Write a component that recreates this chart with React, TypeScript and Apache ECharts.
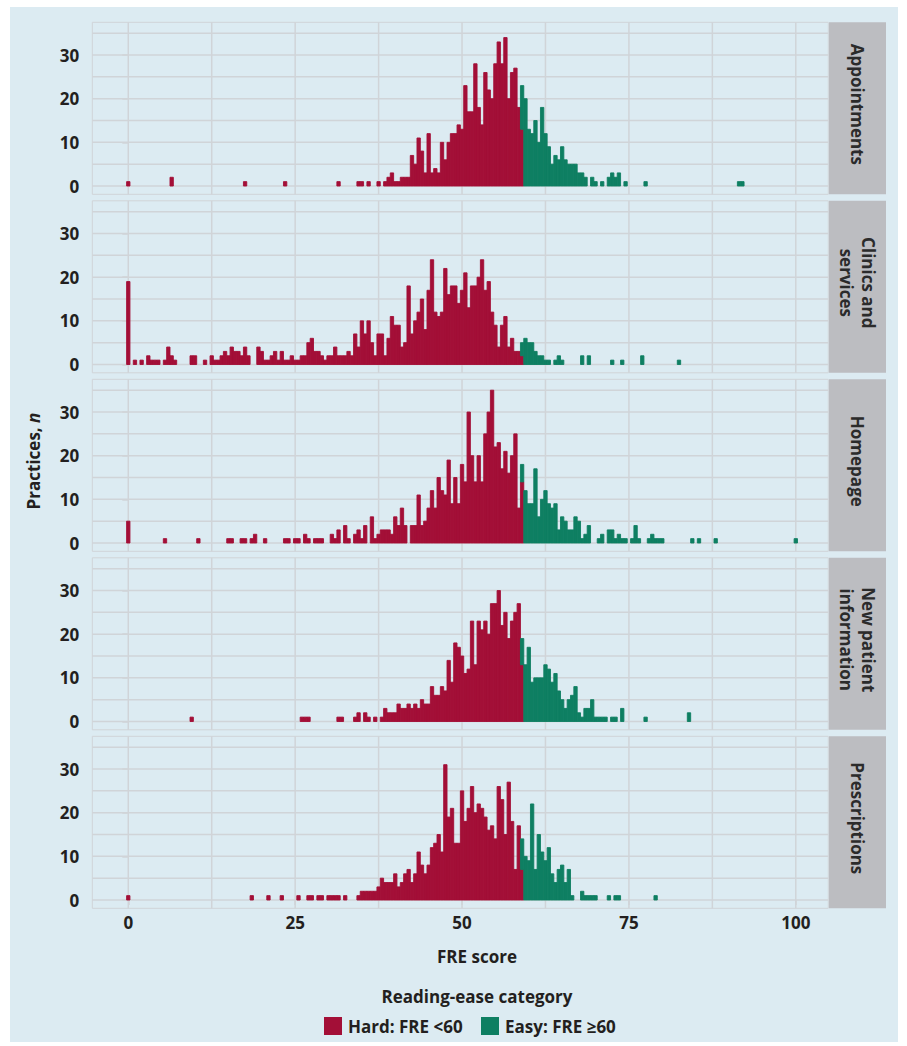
import React, { useEffect, useRef } from 'react';
import * as echarts from 'echarts';

// ---------- data: [bin centre (FRE score), number of practices] ----------
const BIN_WIDTH = 0.5;

const appointmentsHard = [[0,1],[6.5,2],[17.5,1],[23.5,1],[31.5,1],[34.5,1],[35,1],[36,1],[37.5,1],[38.5,1],[39,2],[39.5,3],[40,1],[40.5,1],[41,2],[41.5,2],[42,2],[42.5,7],[43,5],[43.5,11],[44,8],[44.5,3],[45,12],[45.5,3],[46,4],[46.5,3],[47,10],[47.5,6],[48,10],[48.5,12],[49,12],[49.5,14],[50,13],[50.5,23],[51,17],[51.5,17],[52,28],[52.5,18],[53,14],[53.5,26],[54,22],[54.5,20],[55,28],[55.5,33],[56,28],[56.5,34],[57,20],[57.5,26],[58,27],[58.5,18],[59,13]];
const appointmentsEasy = [[59,10],[59.5,20],[60,13],[60.5,12],[61,15],[61.5,10],[62,18],[62.5,12],[63,9],[63.5,5],[64,7],[64.5,6],[65,9],[65.5,6],[66,5],[66.5,5],[67,5],[67.5,3],[68,3],[68.5,2],[69.5,2],[70,1],[71,1],[72,2],[72.5,3],[73,2],[73.5,3],[74.5,1],[77.5,1],[91.5,1],[92,1]];

const clinicsHard = [[0,19],[1,1],[2,1],[3,2],[3.5,1],[4,1],[4.5,1],[5.5,1],[6,4],[6.5,2],[7,1],[9.5,2],[10,2],[11.5,1],[12.5,2],[13,1],[13.5,1],[14,2],[14.5,3],[15,2],[15.5,4],[16,3],[16.5,3],[17,2],[17.5,4],[18,2],[19.5,4],[20,3],[20.5,1],[21,1],[21.5,2],[22,3],[22.5,1],[23,3],[23.5,1],[24,1],[24.5,2],[25,1],[25.5,1],[26,2],[26.5,2],[27,5],[27.5,6],[28,3],[28.5,3],[29,2],[29.5,1],[30,2],[30.5,2],[31,4],[31.5,2],[32,2],[32.5,2],[33,3],[33.5,2],[34,7],[34.5,4],[35,10],[35.5,7],[36,10],[36.5,5],[37,2],[37.5,7],[38,7],[38.5,2],[39,6],[39.5,11],[40,9],[40.5,9],[41,4],[41.5,5],[42,18],[42.5,7],[43,10],[43.5,12],[44,15],[44.5,8],[45,17],[45.5,24],[46,12],[46.5,11],[47,12],[47.5,22],[48,16],[48.5,18],[49,18],[49.5,14],[50,17],[50.5,21],[51,13],[51.5,18],[52,18],[52.5,20],[53,24],[53.5,17],[54,19],[54.5,12],[55,9],[55.5,4],[56,9],[56.5,11],[57,4],[57.5,6],[58,3],[58.5,3],[59,2]];
const clinicsEasy = [[59,3],[59.5,6],[60,5],[60.5,5],[61,3],[61.5,2],[62,2],[62.5,1],[63,1],[64,1],[64.5,2],[65,1],[68,2],[69,2],[72.5,1],[74,1],[77,2],[82.5,1]];

const homepageHard = [[0,5],[5.5,1],[10.5,1],[15,1],[15.5,1],[17,1],[17.5,1],[18.5,1],[19,2],[20.5,1],[23.5,1],[24,1],[25,1],[25.5,1],[26.5,2],[27,1],[28,1],[28.5,1],[29,1],[30.5,2],[31,1],[31.5,3],[32.5,4],[33,1],[34,2],[34.5,3],[35,1],[35.5,4],[36.5,6],[37,1],[37.5,2],[38,3],[38.5,3],[39,3],[39.5,2],[40,6],[40.5,4],[41,8],[41.5,4],[42.5,4],[43,4],[43.5,11],[44,4],[44.5,5],[45,8],[45.5,12],[46,8],[46.5,15],[47,12],[47.5,11],[48,19],[48.5,9],[49,15],[49.5,9],[50,18],[50.5,14],[51,30],[51.5,20],[52,14],[52.5,20],[53,14],[53.5,25],[54,30],[54.5,35],[55,22],[55.5,23],[56,17],[56.5,21],[57,16],[57.5,20],[58,25],[58.5,8],[59,14]];
const homepageEasy = [[59,4],[59.5,12],[60,9],[60.5,9],[61,17],[61.5,6],[62,10],[62.5,12],[63,9],[63.5,8],[64,9],[64.5,3],[65,6],[65.5,5],[66,3],[66.5,3],[67,6],[67.5,5],[68,1],[68.5,2],[69,4],[70.5,1],[71,2],[72,3],[72.5,3],[73,1],[73.5,2],[74,1],[74.5,1],[75.5,1],[76,4],[76.5,1],[78,1],[78.5,2],[79,1],[79.5,1],[80,1],[84.5,1],[85.5,1],[88,1],[100,1]];

const newPatientHard = [[9.5,1],[26,1],[26.5,1],[27,1],[31.5,1],[32,1],[34,1],[34.5,2],[35.5,2],[36,1],[37,1],[38,1],[38.5,3],[39,2],[39.5,2],[40,2],[40.5,4],[41,3],[41.5,3],[42,4],[42.5,3],[43,4],[43.5,3],[44,5],[44.5,4],[45,4],[45.5,8],[46,6],[46.5,6],[47,8],[47.5,7],[48,14],[48.5,9],[49,18],[49.5,17],[50,15],[50.5,11],[51,12],[51.5,23],[52,13],[52.5,23],[53,21],[53.5,23],[54,20],[54.5,27],[55,27],[55.5,30],[56,22],[56.5,25],[57,19],[57.5,23],[58,25],[58.5,27],[59,13]];
const newPatientEasy = [[59,6],[59.5,13],[60,17],[60.5,9],[61,10],[61.5,10],[62,10],[62.5,13],[63,12],[63.5,9],[64,11],[64.5,7],[65,5],[65.5,3],[66,5],[66.5,6],[67,8],[67.5,2],[68,1],[68.5,3],[69,3],[69.5,5],[70,1],[70.5,1],[71,1],[71.5,1],[72.5,1],[73,1],[74,3],[77.5,1],[84,2]];

const prescriptionsHard = [[0,1],[18.5,1],[21,1],[23,1],[25.5,1],[27,1],[27.5,1],[28.5,1],[29,1],[30,1],[30.5,1],[31,1],[31.5,1],[32.5,1],[34.5,1],[35,2],[35.5,2],[36,2],[36.5,2],[37,2],[37.5,3],[38,5],[38.5,4],[39,4],[39.5,4],[40,6],[40.5,3],[41,4],[41.5,6],[42,7],[42.5,4],[43,6],[43.5,11],[44,8],[44.5,6],[45,8],[45.5,12],[46,13],[46.5,15],[47,11],[47.5,31],[48,19],[48.5,21],[49,13],[49.5,13],[50,25],[50.5,18],[51,21],[51.5,26],[52,20],[52.5,22],[53,21],[53.5,19],[54,16],[54.5,17],[55,14],[55.5,26],[56,23],[56.5,15],[57,27],[57.5,18],[58,7],[58.5,17],[59,7]];
const prescriptionsEasy = [[59,7],[59.5,10],[60,9],[60.5,22],[61,7],[61.5,15],[62,11],[62.5,9],[63,12],[63.5,6],[64,4],[64.5,7],[65,8],[65.5,4],[66,7],[66.5,1],[68,2],[68.5,1],[69,1],[69.5,1],[70,1],[72,1],[73,1],[73.5,1],[79,1]];

const PANEL_LABELS = ['Appointments', 'Clinics and\nservices', 'Homepage', 'New patient\ninformation', 'Prescriptions'];
const CATEGORY_LABELS = ['Hard: FRE <60', 'Easy: FRE \u226560'];
const Y_TICKS = [0, 10, 20, 30];
const Y_GRID = [0, 5, 10, 15, 20, 25, 30, 35];
const X_TICKS = [0, 25, 50, 75, 100];
const X_GRID = [0, 12.5, 25, 37.5, 50, 62.5, 75, 87.5, 100];

// ---------- styling / layout ----------
const W = 907;
const H = 1046;
const BG = '#dcebf2';
const STRIP_BG = '#bcbdc1';
const GRID_COLOR = '#d0d4d8';
const HARD = '#a30f37';
const EASY = '#0e7f62';
const TEXT = '#231f20';
const FONT = "'Open Sans', 'Noto Sans', 'DejaVu Sans', sans-serif";
const FS = 17;

const PANEL_LEFT = 92.3;
const PANEL_WIDTH = 736;
const PANEL_TOP0 = 22.3;
const PANEL_STEP = 178.5;
const PANEL_HEIGHT = 172;
const X_MIN = -5.39;
const X_MAX = 104.87;
const Y_MIN = -1.9;
const Y_MAX = 37.5;

const PANELS = [
  { label: PANEL_LABELS[0], hard: appointmentsHard, easy: appointmentsEasy },
  { label: PANEL_LABELS[1], hard: clinicsHard, easy: clinicsEasy },
  { label: PANEL_LABELS[2], hard: homepageHard, easy: homepageEasy },
  { label: PANEL_LABELS[3], hard: newPatientHard, easy: newPatientEasy },
  { label: PANEL_LABELS[4], hard: prescriptionsHard, easy: prescriptionsEasy },
];

const textStyle = { fontSize: FS, fontWeight: 'bold', fontFamily: FONT, color: TEXT };

function barRender(color: string) {
  return (params: any, api: any) => {
    const c = api.value(0);
    const y0 = api.value(1);
    const y1 = api.value(2);
    const p0 = api.coord([c - BIN_WIDTH / 2, y1]);
    const p1 = api.coord([c + BIN_WIDTH / 2, y0]);
    return {
      type: 'rect',
      shape: { x: p0[0], y: p0[1], width: p1[0] - p0[0], height: p1[1] - p0[1] },
      style: { fill: color, stroke: color, lineWidth: 0.9 },
    };
  };
}

function hLineRender(params: any, api: any) {
  const cs = params.coordSys;
  const y = api.coord([0, api.value(1)])[1];
  return {
    type: 'line',
    shape: { x1: cs.x, y1: y, x2: cs.x + cs.width, y2: y },
    style: { stroke: GRID_COLOR, lineWidth: 1.5 },
  };
}

function vLineRender(params: any, api: any) {
  const cs = params.coordSys;
  const x = api.coord([api.value(0), 0])[0];
  return {
    type: 'line',
    shape: { x1: x, y1: cs.y, x2: x, y2: cs.y + cs.height },
    style: { stroke: GRID_COLOR, lineWidth: 1.5 },
  };
}

function buildOption() {
  const grids: any[] = [];
  const xAxes: any[] = [];
  const yAxes: any[] = [];
  const series: any[] = [];
  const graphics: any[] = [];

  PANELS.forEach((p, i) => {
    const top = PANEL_TOP0 + i * PANEL_STEP;
    const isLast = i === PANELS.length - 1;
    grids.push({
      left: PANEL_LEFT, top, width: PANEL_WIDTH, height: PANEL_HEIGHT,
      show: true, backgroundColor: 'transparent', borderColor: GRID_COLOR, borderWidth: 1,
      containLabel: false, outerBoundsMode: 'none',
    });
    xAxes.push({
      gridIndex: i, type: 'value', min: X_MIN, max: X_MAX,
      axisLine: { show: false }, splitLine: { show: false },
      axisTick: { show: isLast, customValues: X_TICKS, length: 5, lineStyle: { color: GRID_COLOR, width: 1.5 } },
      axisLabel: { show: isLast, customValues: X_TICKS, margin: 6, ...textStyle },
    });
    yAxes.push({
      gridIndex: i, type: 'value', min: Y_MIN, max: Y_MAX,
      axisLine: { show: false }, splitLine: { show: false },
      axisTick: { show: true, customValues: Y_TICKS, length: 6, lineStyle: { color: GRID_COLOR, width: 1.5 } },
      axisLabel: { show: true, customValues: Y_TICKS, margin: 13, ...textStyle },
    });

    series.push({
      type: 'custom', xAxisIndex: i, yAxisIndex: i, z: 1, silent: true,
      data: Y_GRID.map((v) => [0, v]), encode: { x: 0, y: 1 }, renderItem: hLineRender,
    });
    series.push({
      type: 'custom', xAxisIndex: i, yAxisIndex: i, z: 1, silent: true,
      data: X_GRID.map((v) => [v, 0]), encode: { x: 0, y: 1 }, renderItem: vLineRender,
    });

    const hardMap = new Map<number, number>();
    p.hard.forEach(([c, n]) => hardMap.set(c, n));
    series.push({
      name: CATEGORY_LABELS[0], type: 'custom', xAxisIndex: i, yAxisIndex: i, z: 3,
      dimensions: ['score', 'start', 'end'],
      data: p.hard.map(([c, n]) => [c, 0, n]),
      encode: { x: 0, y: [1, 2] }, renderItem: barRender(HARD),
    });
    series.push({
      name: CATEGORY_LABELS[1], type: 'custom', xAxisIndex: i, yAxisIndex: i, z: 3,
      dimensions: ['score', 'start', 'end'],
      data: p.easy.map(([c, n]) => {
        const base = hardMap.get(c) || 0;
        return [c, base, base + n];
      }),
      encode: { x: 0, y: [1, 2] }, renderItem: barRender(EASY),
    });

    // facet strip
    graphics.push({
      type: 'rect', shape: { x: 829, y: top, width: 57, height: PANEL_HEIGHT },
      style: { fill: STRIP_BG },
    });
    graphics.push({
      type: 'text', x: 857.5, y: top + PANEL_HEIGHT / 2 - 4, rotation: -Math.PI / 2,
      style: {
        text: p.label, fontSize: FS, fontWeight: 'bold', fontFamily: FONT, fill: '#2b2b2b',
        align: 'center', verticalAlign: 'middle', textAlign: 'center', textVerticalAlign: 'middle',
        lineHeight: 22,
      },
    });
  });

  // axis titles
  graphics.push({
    type: 'text', x: 477, y: 956,
    style: {
      text: 'FRE score', fontSize: FS, fontWeight: 'bold', fontFamily: FONT, fill: TEXT,
      align: 'center', verticalAlign: 'middle', textAlign: 'center', textVerticalAlign: 'middle',
    },
  });
  graphics.push({
    type: 'text', x: 33, y: 461, rotation: Math.PI / 2,
    style: {
      text: '{a|Practices, }{b|n}',
      align: 'center', verticalAlign: 'middle', textAlign: 'center', textVerticalAlign: 'middle',
      rich: {
        a: { fontSize: FS, fontWeight: 'bold', fontFamily: FONT, fill: TEXT, color: TEXT },
        b: { fontSize: FS, fontWeight: 'bold', fontStyle: 'italic', fontFamily: FONT, fill: TEXT, color: TEXT },
      },
    },
  });

  // legend
  graphics.push({
    type: 'text', x: 477, y: 996,
    style: {
      text: 'Reading-ease category', fontSize: FS, fontWeight: 'bold', fontFamily: FONT, fill: TEXT,
      align: 'center', verticalAlign: 'middle', textAlign: 'center', textVerticalAlign: 'middle',
    },
  });
  const legendItems = [
    { x: 324, color: HARD, label: CATEGORY_LABELS[0] },
    { x: 481, color: EASY, label: CATEGORY_LABELS[1] },
  ];
  legendItems.forEach((it) => {
    graphics.push({ type: 'rect', shape: { x: it.x, y: 1017, width: 18, height: 18 }, style: { fill: it.color } });
    graphics.push({
      type: 'text', x: it.x + 24, y: 1026,
      style: {
        text: it.label, fontSize: FS, fontWeight: 'bold', fontFamily: FONT, fill: TEXT,
        align: 'left', verticalAlign: 'middle', textAlign: 'left', textVerticalAlign: 'middle',
      },
    });
  });

  return {
    animation: false,
    backgroundColor: 'transparent',
    grid: grids,
    xAxis: xAxes,
    yAxis: yAxes,
    series,
    graphic: { elements: graphics },
  };
}

export default function App() {
  const ref = useRef<HTMLDivElement>(null);
  useEffect(() => {
    if (!ref.current) return;
    const chart = echarts.init(ref.current, undefined, { renderer: 'svg' });
    chart.setOption(buildOption() as any);
    return () => chart.dispose();
  }, []);
  return (
    <div style={{ position: 'absolute', left: 0, top: 0, width: W, height: H, background: '#ffffff' }}>
      <div style={{ position: 'absolute', left: 10, top: 7, width: 888, height: 1035, background: BG }} />
      <div ref={ref} style={{ position: 'absolute', left: 0, top: 0, width: W, height: H }} />
    </div>
  );
}
